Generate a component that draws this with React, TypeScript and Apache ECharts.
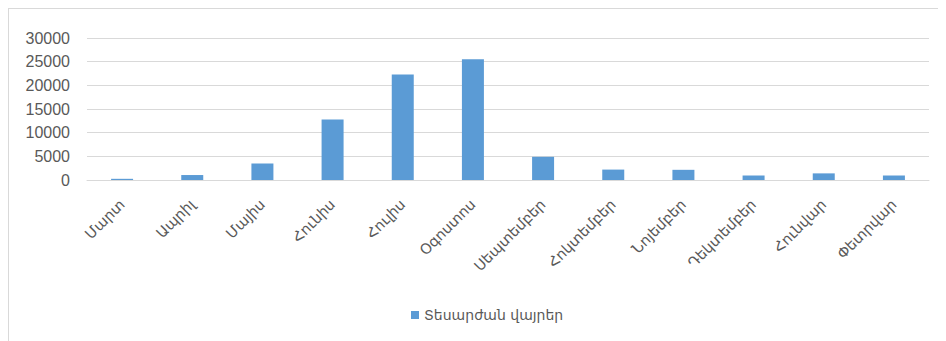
import React, { useEffect, useRef } from "react";
import * as echarts from "echarts";

// Months shown along the category axis (March → February)
const months = [
  "Մարտ",
  "Ապրիլ",
  "Մայիս",
  "Հունիս",
  "Հուլիս",
  "Օգոստոս",
  "Սեպտեմբեր",
  "Հոկտեմբեր",
  "Նոյեմբեր",
  "Դեկտեմբեր",
  "Հունվար",
  "Փետրվար",
];

// Visitors to sights per month
const seriesName = "Տեսարժան վայրեր";
const visitors = [250, 1050, 3500, 12800, 22300, 25500, 4900, 2200, 2150, 950, 1400, 950];

// Value axis range
const yMin = 0;
const yMax = 30000;
const yStep = 5000;

const ARM_FONT = "'DejaVu Sans', 'Noto Sans', sans-serif";
const TEXT = "#595959";
const GRID = "#d9d9d9";

export default function App() {
  const ref = useRef<HTMLDivElement>(null);

  useEffect(() => {
    if (!ref.current) return;
    const chart = echarts.init(ref.current, undefined, { renderer: "svg" });
    chart.setOption({
      animation: false,
      backgroundColor: "#ffffff",
      grid: { left: 78, top: 29, width: 842, height: 142, containLabel: false },
      legend: {
        data: [seriesName],
        left: 397,
        top: 294,
        itemWidth: 8,
        itemHeight: 8,
        itemGap: 6,
        icon: "rect",
        textStyle: { color: TEXT, fontSize: 14, fontFamily: ARM_FONT },
      },
      xAxis: {
        type: "category",
        data: months,
        axisLine: { show: true, lineStyle: { color: GRID, width: 1 } },
        axisTick: { show: false },
        axisLabel: {
          rotate: 45,
          interval: 0,
          margin: 22,
          color: TEXT,
          fontSize: 14.5,
          fontFamily: ARM_FONT,
        },
      },
      yAxis: {
        type: "value",
        min: yMin,
        max: yMax,
        interval: yStep,
        axisLine: { show: false },
        axisTick: { show: false },
        axisLabel: {
          margin: 17,
          color: TEXT,
          fontSize: 16,
          fontFamily: "'Liberation Sans', Arial, sans-serif",
          formatter: (v: number) => String(v),
        },
        splitLine: { lineStyle: { color: GRID, width: 1 } },
      },
      series: [
        {
          name: seriesName,
          type: "bar",
          data: visitors,
          barWidth: 22,
          itemStyle: { color: "#5b9bd5" },
        },
      ],
    });
    return () => chart.dispose();
  }, []);

  return (
    <div
      style={{
        width: 938,
        height: 333,
        overflow: "hidden",
        boxSizing: "border-box",
        borderTop: `1px solid ${GRID}`,
        borderLeft: `1px solid ${GRID}`,
        background: "#ffffff",
      }}
    >
      <div ref={ref} style={{ width: 937, height: 332 }} />
    </div>
  );
}
